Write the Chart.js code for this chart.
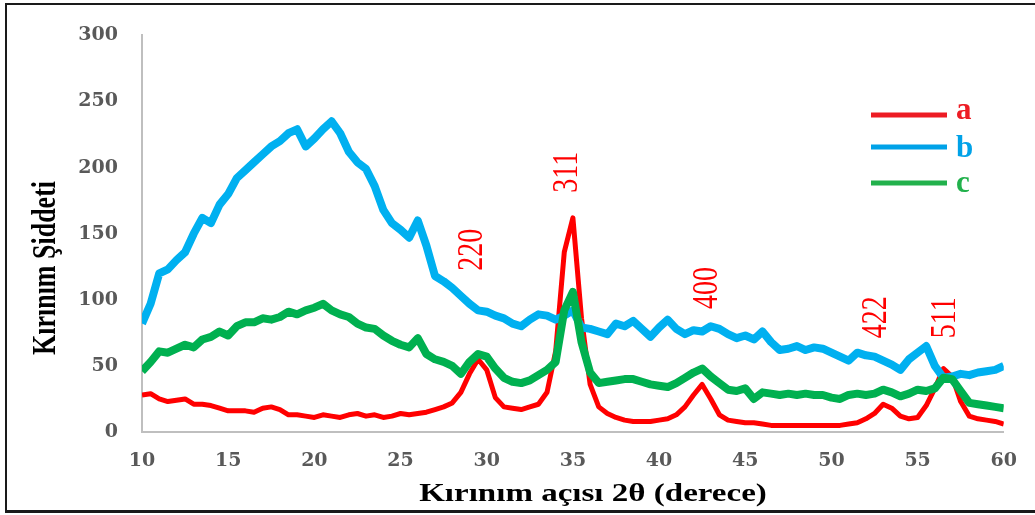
<!DOCTYPE html>
<html>
<head>
<meta charset="utf-8">
<script src="https://cdn.jsdelivr.net/npm/chart.js@4.4.1/dist/chart.umd.min.js"></script>
<style>
    html, body { margin: 0; padding: 0; background: #fff; overflow: hidden; }
    #wrap { position: relative; width: 1035px; height: 515px; }
    #xrdChart { display: block; }
    #frame {
        position: absolute; left: 5px; top: 3px; width: 1100px; height: 505px;
        border-top: 2px solid #1a1a1a; border-left: 2px solid #1a1a1a; border-bottom: 3px solid #1a1a1a;
        pointer-events: none;
    }
</style>
</head>
<body>
<div id="wrap">
    <canvas id="xrdChart" width="1035" height="515"></canvas>
    <div id="frame"></div>
</div>
<script>
// 2θ values (derece)
const angles = [
    10, 10.5, 11, 11.5, 12, 12.5, 13, 13.5, 14, 14.5,
    15, 15.5, 16, 16.5, 17, 17.5, 18, 18.5, 19, 19.5,
    20, 20.5, 21, 21.5, 22, 22.5, 23, 23.5, 24, 24.5,
    25, 25.5, 26, 26.5, 27, 27.5, 28, 28.5, 29, 29.5,
    30, 30.5, 31, 31.5, 32, 32.5, 33, 33.5, 34, 34.5,
    35, 35.5, 36, 36.5, 37, 37.5, 38, 38.5, 39, 39.5,
    40, 40.5, 41, 41.5, 42, 42.5, 43, 43.5, 44, 44.5,
    45, 45.5, 46, 46.5, 47, 47.5, 48, 48.5, 49, 49.5,
    50, 50.5, 51, 51.5, 52, 52.5, 53, 53.5, 54, 54.5,
    55, 55.5, 56, 56.5, 57, 57.5, 58, 58.5, 59, 59.5,
    60
];

// Kırınım şiddeti
const seriesA = [
    28, 29, 25, 23, 24, 25, 21, 21, 20, 18,
    16, 16, 16, 15, 18, 19, 17, 13, 13, 12,
    11, 13, 12, 11, 13, 14, 12, 13, 11, 12,
    14, 13, 14, 15, 17, 19, 22, 30, 44, 55,
    47, 26, 19, 18, 17, 19, 21, 30, 61, 136,
    162, 86, 36, 19, 14, 11, 9, 8, 8, 8,
    9, 10, 13, 19, 28, 36, 25, 13, 9, 8,
    7, 7, 6, 5, 5, 5, 5, 5, 5, 5,
    5, 5, 6, 7, 10, 14, 21, 18, 12, 10,
    11, 20, 33, 48, 42, 23, 12, 10, 9, 8,
    6
];
const seriesB = [
    82, 97, 120, 123, 130, 136, 150, 162, 158, 172,
    180, 192, 198, 204, 210, 216, 220, 226, 229, 216,
    222, 229, 235, 226, 212, 204, 199, 186, 168, 158,
    153, 147, 160, 141, 118, 114, 109, 103, 97, 92,
    91, 88, 86, 82, 80, 85, 89, 88, 85, 88,
    92, 79, 78, 76, 74, 82, 80, 84, 78, 72,
    79, 85, 78, 74, 77, 76, 80, 78, 74, 71,
    73, 70, 76, 68, 62, 63, 65, 62, 64, 63,
    60, 57, 54, 60, 58, 57, 54, 51, 47, 55,
    60, 65, 50, 41, 42, 44, 43, 45, 46, 47,
    50
];
const seriesC = [
    46, 53, 61, 60, 63, 66, 64, 70, 72, 76,
    73, 80, 83, 83, 86, 85, 87, 91, 89, 92,
    94, 97, 92, 89, 87, 82, 79, 78, 73, 69,
    66, 64, 71, 59, 55, 53, 50, 44, 53, 59,
    57, 48, 41, 38, 37, 39, 43, 47, 53, 92,
    106, 68, 45, 37, 38, 39, 40, 40, 38, 36,
    35, 34, 37, 41, 45, 48, 42, 37, 32, 31,
    33, 25, 30, 29, 28, 29, 28, 29, 28, 28,
    26, 25, 28, 29, 28, 29, 32, 30, 27, 29,
    32, 31, 33, 41, 40, 31, 22, 21, 20, 19,
    18
];

const seriesNames = ['a', 'b', 'c'];
const lineColors = ['#ff0000', '#00b0f0', '#00b050'];
const legendColors = ['#ed1c24', '#00a2e8', '#22b14c'];

// hkl labels over the peaks
const peakLabels = ['220', '311', '400', '422', '511'];
const peakAngles = [29.2, 34.7, 42.8, 52.6, 56.6];
const peakHeights = [122, 181, 93, 71, 71];

const xTitle = 'Kırınım açısı 2θ (derece)';
const yTitle = 'Kırınım Şiddeti';

function toPoints(values) {
    return angles.map(function(a, i) {
        return { x: a, y: values[i] };
    });
}

// the original figure is stretched sideways, so the texts get a small x-scale
function drawText(ctx, text, x, y, opts) {
    ctx.save();
    ctx.translate(x, y);
    ctx.scale(opts.stretch || 1, 1);
    if (opts.rotate) ctx.rotate(opts.rotate);
    ctx.font = opts.font;
    ctx.fillStyle = opts.color;
    ctx.textAlign = opts.align || 'center';
    ctx.textBaseline = opts.baseline || 'alphabetic';
    ctx.fillText(text, 0, 0);
    ctx.restore();
}

const overlayPlugin = {
    id: 'overlay',
    afterDraw: function(chart) {
        const ctx = chart.ctx;
        const xs = chart.scales.x;
        const ys = chart.scales.y;

        for (var i = 0; i < peakLabels.length; ++i) {
            drawText(ctx, peakLabels[i], xs.getPixelForValue(peakAngles[i]), ys.getPixelForValue(peakHeights[i]), {
                font: '28px "Liberation Serif"', color: '#ff0000', stretch: 1.3,
                rotate: -Math.PI / 2, align: 'left', baseline: 'middle'
            });
        }

        drawText(ctx, xTitle, 593, 501, { font: 'bold 26px "Liberation Serif"', color: '#000', stretch: 1.27 });
        drawText(ctx, yTitle, 46, 268, {
            font: 'bold 26px "Liberation Serif"', color: '#000', stretch: 1.3,
            rotate: -Math.PI / 2, baseline: 'middle'
        });

        // legend
        const legendY = [115, 147, 183];
        const textY = [119, 157, 192];
        for (var j = 0; j < seriesNames.length; ++j) {
            ctx.save();
            ctx.strokeStyle = legendColors[j];
            ctx.lineWidth = 5;
            ctx.beginPath();
            ctx.moveTo(871, legendY[j]);
            ctx.lineTo(947, legendY[j]);
            ctx.stroke();
            ctx.restore();
            drawText(ctx, seriesNames[j], 956, textY[j], {
                font: 'bold 31px "Liberation Serif"', color: legendColors[j], align: 'left'
            });
        }
    }
};

const allSeries = [seriesA, seriesB, seriesC];
const widths = [5, 8, 8];

new Chart('xrdChart', {
    type: 'line',
    data: {
        datasets: allSeries.map(function(values, i) {
            return {
                label: seriesNames[i],
                data: toPoints(values),
                borderColor: lineColors[i],
                borderWidth: widths[i],
                borderJoinStyle: 'round',
                pointRadius: 0,
                tension: 0,
                order: 3 - i,
            };
        })
    },
    options: {
        responsive: false,
        animation: false,
        layout: { padding: { top: 30, right: 31, left: 0, bottom: 0 } },
        plugins: {
            legend: { display: false },
            tooltip: { enabled: false }
        },
        scales: {
            x: {
                type: 'linear',
                min: 10,
                max: 60,
                ticks: {
                    stepSize: 5,
                    padding: 18,
                    color: '#595959',
                    font: { family: 'DejaVu Serif', weight: 'bold', size: 19 }
                },
                grid: { display: false, drawTicks: false },
                border: { color: '#bfbfbf', width: 2 },
                afterFit: function(scale) { scale.height = 83; }
            },
            y: {
                min: 0,
                max: 300,
                ticks: {
                    stepSize: 50,
                    padding: 24,
                    color: '#595959',
                    font: { family: 'DejaVu Serif', weight: 'bold', size: 19 }
                },
                grid: { display: false, drawTicks: false },
                border: { color: '#bfbfbf', width: 2 },
                afterFit: function(scale) { scale.width = 142; }
            }
        }
    },
    plugins: [overlayPlugin]
});
</script>
</body>
</html>
